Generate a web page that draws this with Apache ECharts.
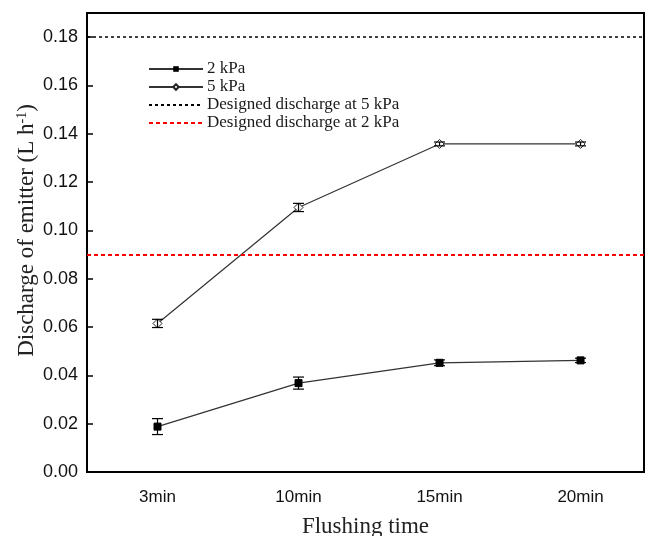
<!DOCTYPE html>
<html>
<head>
<meta charset="utf-8">
<script src="https://cdn.jsdelivr.net/npm/echarts@6/dist/echarts.min.js"></script>
<style>html,body{margin:0;padding:0;background:#fff;}#c{width:646px;height:536px;}</style>
</head>
<body>
<div id="c"></div>
<script>
var categories = ['3min', '10min', '15min', '20min'];
var yTicks = [0, 0.02, 0.04, 0.06, 0.08, 0.10, 0.12, 0.14, 0.16, 0.18];
var series2kPa = [0.0188, 0.0368, 0.0452, 0.0462];
var err2kPa = [0.0033, 0.0025, 0.0012, 0.0009];
var series5kPa = [0.0615, 0.1095, 0.1358, 0.1358];
var err5kPa = [0.0017, 0.0017, 0.0008, 0.0008];
var designed5kPa = 0.18;
var designed2kPa = 0.09;

function pts(vals) { return vals.map(function (v, i) { return [i, v]; }); }
function errData(vals, errs) {
  return vals.map(function (v, i) { return [i, v - errs[i], v + errs[i]]; });
}
function errRender(params, api) {
  var x = api.value(0);
  var lo = api.coord([x, api.value(1)]);
  var hi = api.coord([x, api.value(2)]);
  var w = 5.5;
  var st = { stroke: '#000', lineWidth: 1.2 };
  return {
    type: 'group',
    children: [
      { type: 'line', shape: { x1: lo[0], y1: lo[1], x2: hi[0], y2: hi[1] }, style: st },
      { type: 'line', shape: { x1: lo[0] - w, y1: lo[1], x2: lo[0] + w, y2: lo[1] }, style: st },
      { type: 'line', shape: { x1: hi[0] - w, y1: hi[1], x2: hi[0] + w, y2: hi[1] }, style: st }
    ]
  };
}

var chart = echarts.init(document.getElementById('c'));
chart.setOption({
  animation: false,
  backgroundColor: '#fff',
  grid: { left: 87, right: 2, top: 13, bottom: 64, show: true, borderColor: '#000', borderWidth: 2,
    backgroundColor: 'transparent', outerBoundsMode: 'none', containLabel: false },
  legend: {
    orient: 'vertical',
    left: 143, top: 55,
    itemWidth: 54, itemHeight: 7, itemGap: 0,
    data: [
      { name: '2 kPa' },
      { name: '5 kPa' },
      { name: 'Designed discharge at 5 kPa', itemStyle: { opacity: 0 } },
      { name: 'Designed discharge at 2 kPa', itemStyle: { opacity: 0 } }
    ],
    textStyle: { fontFamily: 'Liberation Serif', fontSize: 17, color: '#1a1a1a', lineHeight: 18, padding: [0, 0, 0, -1] }
  },
  xAxis: {
    type: 'value',
    min: -0.5, max: 3.45, interval: 0.5,
    axisLine: { onZero: false, lineStyle: { color: '#000', width: 2 } },
    axisTick: { show: false },
    splitLine: { show: false },
    axisLabel: {
      fontFamily: 'Liberation Sans', fontSize: 17, color: '#111', margin: 17,
      showMinLabel: true, showMaxLabel: true,
      formatter: function (v) {
        var i = Math.round(v);
        return (Math.abs(v - i) < 1e-9 && categories[i] !== undefined) ? categories[i] : '';
      }
    },
    name: 'Flushing time',
    nameLocation: 'middle',
    nameGap: 43,
    nameTextStyle: { fontFamily: 'Liberation Serif', fontSize: 23, color: '#222' }
  },
  yAxis: {
    type: 'value',
    min: 0, max: 0.19, interval: 0.02,
    axisLine: { show: true, onZero: false, lineStyle: { color: '#000', width: 2 } },
    axisTick: { show: true, inside: true, length: 6, lineStyle: { color: '#000', width: 1.5 } },
    splitLine: { show: false },
    axisLabel: {
      fontFamily: 'Liberation Sans', fontSize: 18, color: '#111', margin: 9, showMaxLabel: false,
      formatter: function (v) { return yTicks.some(function (t) { return Math.abs(t - v) < 1e-9; }) ? v.toFixed(2) : ''; }
    },
    name: 'Discharge of emitter (L h{sup|-1})',
    nameLocation: 'middle',
    nameGap: 49,
    nameMoveOverlap: false,
    nameTextStyle: {
      fontFamily: 'Liberation Serif', fontSize: 23, color: '#222', padding: [0, 0, 0, 24],
      rich: { sup: { fontFamily: 'Liberation Serif', fontSize: 14, color: '#222', verticalAlign: 'top', padding: [0, 0, 9, 0] } }
    }
  },
  series: [
    {
      name: '2 kPa', type: 'line', data: pts(series2kPa),
      symbol: 'rect', symbolSize: 7,
      itemStyle: { color: '#000', borderColor: '#000' },
      lineStyle: { color: '#333', width: 1.2 },
      z: 3
    },
    {
      name: '5 kPa', type: 'line', data: pts(series5kPa),
      symbol: 'diamond', symbolSize: 9,
      itemStyle: { color: '#fff', borderColor: '#222', borderWidth: 1 },
      lineStyle: { color: '#333', width: 1.2 },
      z: 3
    },
    {
      name: 'Designed discharge at 5 kPa', type: 'line', data: [],
      symbol: 'none',
      itemStyle: { color: '#000' },
      lineStyle: { color: '#000', width: 1.5, type: [3, 3] },
      markLine: { silent: true, symbol: 'none', label: { show: false },
        lineStyle: { color: '#000', width: 1.5, type: [3, 3] },
        data: [{ yAxis: designed5kPa }] }
    },
    {
      name: 'Designed discharge at 2 kPa', type: 'line', data: [],
      symbol: 'none',
      itemStyle: { color: '#ff0000' },
      lineStyle: { color: '#ff0000', width: 2, type: [4, 3] },
      markLine: { silent: true, symbol: 'none', label: { show: false },
        lineStyle: { color: '#ff0000', width: 2, type: [4, 3] },
        data: [{ yAxis: designed2kPa }] }
    },
    { type: 'custom', renderItem: errRender, data: errData(series2kPa, err2kPa), z: 4, silent: true },
    { type: 'custom', renderItem: errRender, data: errData(series5kPa, err5kPa), z: 4, silent: true }
  ]
});
</script>
</body>
</html>
